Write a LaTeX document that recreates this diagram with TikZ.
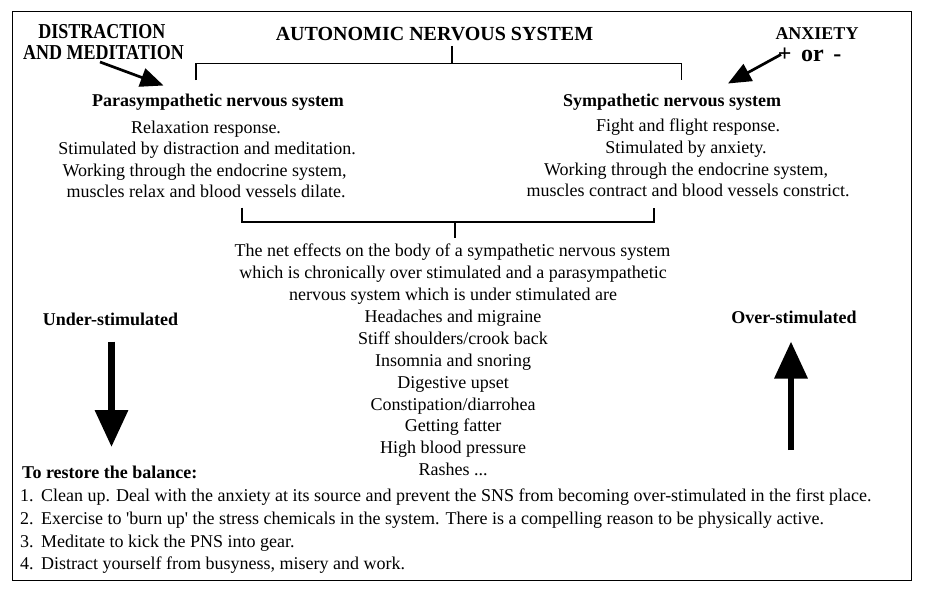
\documentclass[tikz,border=0pt]{standalone}
\usepackage{fontspec}
\setmainfont{Liberation Serif}
\usetikzlibrary{arrows.meta}
\begin{document}
\begin{tikzpicture}[x=1pt,y=-1pt,
  txt/.style={inner sep=0pt,anchor=base,font=\fontsize{18}{22}\selectfont},
  hdr/.style={inner sep=0pt,anchor=base,font=\fontsize{18}{22}\selectfont\bfseries},
  lst/.style={inner sep=0pt,anchor=base west,font=\fontsize{18}{22}\selectfont},
  brk/.style={line width=1.7pt},
  fatarrow/.style={line width=6.5pt,-{Triangle[length=37pt,width=32pt]}},
  diagarrow/.style={line width=2.7pt,-{Triangle[length=23pt,width=19pt]}}]
\useasboundingbox (0,0) rectangle (926,594);
\draw[line width=1pt] (12.5,11.5) rectangle (911.5,580.5);
% top labels
\node[hdr] (dist1) at (102,38.5) {\scalebox{1}[1.18]{DISTRACTION}};
\node[hdr] (dist2) at (103.5,59.5) {\scalebox{1}[1.18]{AND MEDITATION}};
\node[hdr,font=\fontsize{20}{22}\selectfont\bfseries] (ans) at (434.5,40.5) {AUTONOMIC NERVOUS SYSTEM};
\node[hdr] (anx) at (817,39.5) {ANXIETY};
\node[hdr,font=\fontsize{24}{26}\selectfont\bfseries] (pm) at (809.5,61.5) {+\hspace{0.4em}or\hspace{0.4em}-};
% top bracket
\coordinate (tb) at (452,46);
\coordinate (tbm) at (452,63.5);
\coordinate (tbl) at (196,63.5);
\coordinate (tbr) at (681.5,63.5);
\coordinate (tbld) at (196,80);
\coordinate (tbrd) at (681.5,80);
\draw[brk] (tb) -- (tbm);
\draw[brk] (tbld) -- (tbl) -- (tbr) -- (tbrd);
% diagonal arrows
\coordinate (da1) at (100,62);
\coordinate (da2) at (163.5,85.5);
\draw[diagarrow] (da1) -- (da2);
\coordinate (aa1) at (781,54.5);
\coordinate (aa2) at (728,83.5);
\draw[diagarrow] (aa1) -- (aa2);
% PNS / SNS
\node[hdr] (pns) at (218,106) {Parasympathetic nervous system};
\node[hdr] (sns) at (672,106) {Sympathetic nervous system};
\node[txt] (p1) at (206,133) {Relaxation response.};
\node[txt] (p2) at (207,154.5) {Stimulated by distraction and meditation.};
\node[txt] (p3) at (204.5,176) {Working through the endocrine system,};
\node[txt] (p4) at (206,197.5) {muscles relax and blood vessels dilate.};
\node[txt] (s1) at (688,131) {Fight and flight response.};
\node[txt] (s2) at (686,153) {Stimulated by anxiety.};
\node[txt] (s3) at (686,175) {Working through the endocrine system,};
\node[txt] (s4) at (688,196.5) {muscles contract and blood vessels constrict.};
% lower bracket
\coordinate (lbl) at (242,207.5);
\coordinate (lblb) at (242,222);
\coordinate (lbr) at (654,207.5);
\coordinate (lbrb) at (654,222);
\coordinate (lbm) at (455,222);
\coordinate (lbmd) at (455,238);
\draw[brk] (lbl) -- (lblb) -- (lbrb) -- (lbr);
\draw[brk] (lbm) -- (lbmd);
% net effects
\node[txt] (n1) at (452.5,256) {The net effects on the body of a sympathetic nervous system};
\node[txt] (n2) at (453,278) {which is chronically over stimulated and a parasympathetic};
\node[txt] (n3) at (453,300) {nervous system which is under stimulated are};
\node[txt] (e1) at (453,322) {Headaches and migraine};
\node[txt] (e2) at (453,344) {Stiff shoulders/crook back};
\node[txt] (e3) at (453,366) {Insomnia and snoring};
\node[txt] (e4) at (453,388) {Digestive upset};
\node[txt] (e5) at (453,410) {Constipation/diarrohea};
\node[txt] (e6) at (453,431.5) {Getting fatter};
\node[txt] (e7) at (453,453) {High blood pressure};
\node[txt] (e8) at (453,475) {Rashes ...};
% under / over
\node[hdr] (us) at (110.5,325) {Under-stimulated};
\coordinate (ua) at (111.5,341.5);
\coordinate (ub) at (111.5,447);
\draw[fatarrow] (ua) -- (ub);
\node[hdr] (os) at (794,323) {Over-stimulated};
\coordinate (oa) at (791,450);
\coordinate (ob) at (791,341.5);
\draw[fatarrow] (oa) -- (ob);
% restore
\node[lst,font=\fontsize{18}{22}\selectfont\bfseries] (rb) at (22,478.5) {To restore the balance:};
\node[lst] (l1) at (20,501) {\makebox[21pt][l]{1.}Clean up. Deal with the anxiety at its source and prevent the SNS from becoming over-stimulated in the first place.};
\node[lst] (l2) at (20,524) {\makebox[21pt][l]{2.}Exercise to \textquotesingle burn up\textquotesingle\ the stress chemicals in the system. There is a compelling reason to be physically active.};
\node[lst] (l3) at (20,547) {\makebox[21pt][l]{3.}Meditate to kick the PNS into gear.};
\node[lst] (l4) at (20,569) {\makebox[21pt][l]{4.}Distract yourself from busyness, misery and work.};
\end{tikzpicture}
\end{document}
